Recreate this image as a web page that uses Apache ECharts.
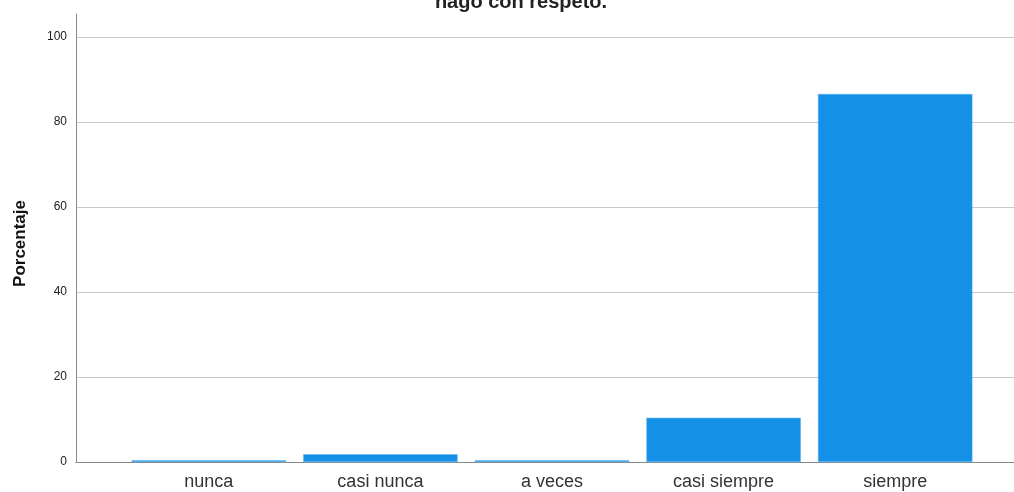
<!DOCTYPE html>
<html>
<head>
<meta charset="utf-8">
<script src="https://cdn.jsdelivr.net/npm/echarts@6/dist/echarts.min.js"></script>
<style>html,body{margin:0;padding:0;background:#fff}#c{width:1014px;height:492px}</style>
</head>
<body>
<div id="c"></div>
<script>
const categories = ['nunca', 'casi nunca', 'a veces', 'casi siempre', 'siempre'];
const porcentaje = [0.4, 1.8, 0.4, 10.4, 86.6];
const yTicks = [0, 20, 40, 60, 80, 100];
const titleText = 'hago con respeto.';
const yName = 'Porcentaje';

const chart = echarts.init(document.getElementById('c'));
const font = 'Liberation Sans, Arial, sans-serif';
chart.setOption({
  animation: false,
  title: {
    text: titleText, left: 516, textAlign: 'center', top: -13,
    textStyle: {fontFamily: font, fontSize: 20, fontWeight: 'bold', color: '#222'}
  },
  grid: [
    {left: 76, right: 0, top: 14, bottom: 30},
    {left: 76, right: 0, top: 37, bottom: 30},
    {left: 123, right: 33, top: 37, bottom: 30}
  ],
  xAxis: [
    {gridIndex: 0, type: 'value', min: 0, max: 1,
     axisLine: {show: true, lineStyle: {color: '#888', width: 1}},
     axisTick: {show: false}, axisLabel: {show: false}, splitLine: {show: false}},
    {gridIndex: 1, type: 'value', min: 0, max: 1, show: false},
    {gridIndex: 2, type: 'category', data: categories,
     axisLine: {show: false}, axisTick: {show: false},
     axisLabel: {fontFamily: font, fontSize: 18, color: '#333', margin: 11}}
  ],
  yAxis: [
    {gridIndex: 0, type: 'value', min: 0, max: 105,
     axisLine: {show: true, lineStyle: {color: '#888', width: 1}},
     axisTick: {show: false}, axisLabel: {show: false}, splitLine: {show: false}},
    {gridIndex: 1, type: 'value', min: 0, max: 100, interval: 20,
     name: yName, nameLocation: 'middle', nameGap: 47,
     nameTextStyle: {fontFamily: font, fontSize: 17, fontWeight: 'bold', color: '#111', padding: [0, 0, 0, 12]},
     axisLine: {show: false}, axisTick: {show: false},
     axisLabel: {fontFamily: font, fontSize: 12, color: '#222', margin: 9,
       formatter: v => yTicks.includes(v) ? String(v) : ''},
     splitLine: {show: true, lineStyle: {color: '#c8c8c8', width: 1}}},
    {gridIndex: 2, type: 'value', min: 0, max: 100, show: false}
  ],
  series: [{
    type: 'bar', xAxisIndex: 2, yAxisIndex: 2, data: porcentaje,
    barCategoryGap: '10%', z: 3,
    itemStyle: {color: '#1490e6', borderColor: '#5fb4ef', borderWidth: 0.5}
  }]
});
</script>
</body>
</html>
